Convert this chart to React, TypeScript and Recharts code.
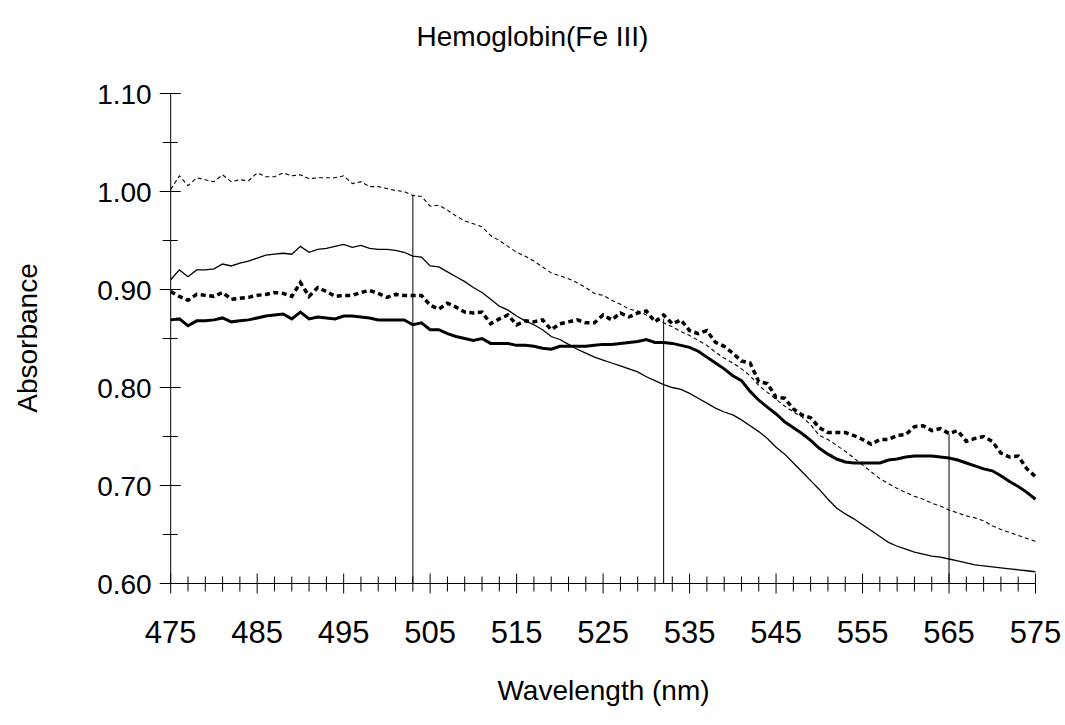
import { LineChart, Line, XAxis, YAxis, ReferenceLine } from 'recharts';

const wavelength = [
  475, 476, 477, 478, 479, 480, 481, 482, 483, 484, 485, 486, 487, 488, 489, 490, 491, 492, 493, 494,
  495, 496, 497, 498, 499, 500, 501, 502, 503, 504, 505, 506, 507, 508, 509, 510, 511, 512, 513, 514,
  515, 516, 517, 518, 519, 520, 521, 522, 523, 524, 525, 526, 527, 528, 529, 530, 531, 532, 533, 534,
  535, 536, 537, 538, 539, 540, 541, 542, 543, 544, 545, 546, 547, 548, 549, 550, 551, 552, 553, 554,
  555, 556, 557, 558, 559, 560, 561, 562, 563, 564, 565, 566, 567, 568, 569, 570, 571, 572, 573, 574,
  575,
];

// thin dashed trace
const absDashedThin = [
  1.002, 1.016, 1.006, 1.014, 1.012, 1.010, 1.017, 1.010, 1.012, 1.011, 1.019, 1.015, 1.015, 1.019, 1.016, 1.017, 1.013, 1.014, 1.014, 1.014,
  1.016, 1.008, 1.010, 1.005, 1.005, 1.003, 1.001, 1.000, 0.996, 0.995, 0.985, 0.986, 0.981, 0.975, 0.970, 0.967, 0.964, 0.955, 0.950, 0.944,
  0.938, 0.934, 0.929, 0.923, 0.917, 0.914, 0.911, 0.907, 0.902, 0.896, 0.894, 0.889, 0.885, 0.880, 0.878, 0.874, 0.871, 0.866, 0.862, 0.857,
  0.853, 0.848, 0.843, 0.836, 0.830, 0.825, 0.819, 0.812, 0.802, 0.795, 0.788, 0.781, 0.775, 0.770, 0.762, 0.751, 0.747, 0.741, 0.735, 0.728,
  0.721, 0.714, 0.707, 0.702, 0.697, 0.693, 0.689, 0.686, 0.682, 0.679, 0.675, 0.672, 0.669, 0.667, 0.664, 0.659, 0.655, 0.652, 0.649, 0.646,
  0.643,
];

// thin solid trace
const absSolidThin = [
  0.910, 0.920, 0.913, 0.920, 0.920, 0.921, 0.926, 0.924, 0.927, 0.929, 0.932, 0.935, 0.936, 0.937, 0.936, 0.944, 0.938, 0.941, 0.942, 0.944,
  0.946, 0.943, 0.945, 0.942, 0.941, 0.941, 0.940, 0.938, 0.934, 0.933, 0.924, 0.923, 0.918, 0.913, 0.908, 0.902, 0.897, 0.890, 0.883, 0.879,
  0.873, 0.868, 0.864, 0.859, 0.852, 0.849, 0.844, 0.839, 0.835, 0.831, 0.828, 0.825, 0.822, 0.819, 0.816, 0.811, 0.807, 0.803, 0.800, 0.798,
  0.794, 0.789, 0.784, 0.779, 0.775, 0.772, 0.767, 0.761, 0.755, 0.748, 0.739, 0.732, 0.723, 0.714, 0.705, 0.696, 0.686, 0.677, 0.671, 0.666,
  0.660, 0.654, 0.648, 0.642, 0.638, 0.635, 0.632, 0.630, 0.628, 0.627, 0.625, 0.623, 0.621, 0.619, 0.618, 0.617, 0.616, 0.615, 0.614, 0.613,
  0.612,
];

// thick dotted trace
const absDottedThick = [
  0.898, 0.893, 0.889, 0.895, 0.894, 0.893, 0.897, 0.890, 0.891, 0.892, 0.894, 0.895, 0.897, 0.896, 0.893, 0.907, 0.893, 0.902, 0.898, 0.893,
  0.894, 0.894, 0.897, 0.899, 0.896, 0.892, 0.895, 0.894, 0.894, 0.894, 0.884, 0.880, 0.886, 0.882, 0.877, 0.876, 0.877, 0.865, 0.870, 0.874,
  0.864, 0.868, 0.867, 0.869, 0.859, 0.865, 0.867, 0.869, 0.866, 0.866, 0.874, 0.869, 0.876, 0.872, 0.876, 0.878, 0.867, 0.874, 0.865, 0.869,
  0.858, 0.855, 0.858, 0.846, 0.842, 0.835, 0.827, 0.825, 0.806, 0.804, 0.790, 0.789, 0.778, 0.772, 0.769, 0.759, 0.754, 0.754, 0.754, 0.751,
  0.747, 0.742, 0.747, 0.747, 0.751, 0.752, 0.760, 0.761, 0.756, 0.758, 0.753, 0.756, 0.745, 0.748, 0.750, 0.745, 0.733, 0.729, 0.730, 0.717,
  0.709,
];

// thick solid trace
const absSolidThick = [
  0.869, 0.870, 0.863, 0.868, 0.868, 0.869, 0.871, 0.867, 0.868, 0.869, 0.871, 0.873, 0.874, 0.875, 0.870, 0.877, 0.870, 0.872, 0.871, 0.870,
  0.873, 0.873, 0.872, 0.871, 0.869, 0.869, 0.869, 0.869, 0.864, 0.866, 0.859, 0.859, 0.855, 0.852, 0.850, 0.848, 0.850, 0.845, 0.845, 0.845,
  0.843, 0.843, 0.842, 0.840, 0.839, 0.842, 0.842, 0.842, 0.842, 0.843, 0.844, 0.844, 0.845, 0.846, 0.847, 0.849, 0.846, 0.846, 0.845, 0.843,
  0.841, 0.837, 0.831, 0.825, 0.819, 0.812, 0.807, 0.796, 0.787, 0.780, 0.773, 0.765, 0.759, 0.753, 0.746, 0.738, 0.732, 0.727, 0.724, 0.723,
  0.723, 0.723, 0.723, 0.726, 0.727, 0.729, 0.730, 0.730, 0.730, 0.729, 0.728, 0.726, 0.723, 0.720, 0.717, 0.715, 0.710, 0.704, 0.699, 0.693,
  0.686,
];

// vertical drop lines
const markerWavelength = [503, 532, 565];
const markerTop = [0.996, 0.870, 0.753];

const xTicks = [
  475, 477, 479, 481, 483, 485, 487, 489, 491, 493, 495, 497, 499, 501, 503, 505, 507, 509, 511, 513,
  515, 517, 519, 521, 523, 525, 527, 529, 531, 533, 535, 537, 539, 541, 543, 545, 547, 549, 551, 553,
  555, 557, 559, 561, 563, 565, 567, 569, 571, 573, 575,
];
const xLabels = [475, 485, 495, 505, 515, 525, 535, 545, 555, 565, 575];
const yTicks = [0.6, 0.65, 0.7, 0.75, 0.8, 0.85, 0.9, 0.95, 1.0, 1.05, 1.1];
const yLabels = ['0.60', '0.70', '0.80', '0.90', '1.00', '1.10'];

const FONT = '"Liberation Sans", Arial, sans-serif';

const data = wavelength.map((w, i) => ({
  w,
  dashedThin: absDashedThin[i],
  solidThin: absSolidThin[i],
  dottedThick: absDottedThick[i],
  solidThick: absSolidThick[i],
}));

function XTick(props: any) {
  const { x, y, payload } = props;
  const major = xLabels.includes(payload.value);
  return (
    <g>
      <line x1={x} x2={x} y1={y - (major ? 10 : 7)} y2={y + (major ? 10 : 8)} stroke="#000" strokeWidth={1} />
      {major && (
        <text x={x} y={y + 59} textAnchor="middle" fontSize={31} fontFamily={FONT} fill="#000">
          {payload.value}
        </text>
      )}
    </g>
  );
}

function YTick(props: any) {
  const { x, y, payload } = props;
  const label = Number(payload.value).toFixed(2);
  const major = yLabels.includes(label);
  return (
    <g>
      <line x1={x - (major ? 11 : 8)} x2={x + (major ? 10 : 7)} y1={y} y2={y} stroke="#000" strokeWidth={1} />
      {major && (
        <text x={x - 19} y={y} dy="0.36em" textAnchor="end" fontSize={28} fontFamily={FONT} fill="#000">
          {label}
        </text>
      )}
    </g>
  );
}

export default function App() {
  return (
    <div style={{ position: 'absolute', left: 0, top: 0, width: 1065, height: 725, background: '#fff', fontFamily: FONT }}>
      <div style={{ position: 'absolute', left: 0, width: 1065, top: 20, textAlign: 'center', fontSize: 28, lineHeight: '34px' }}>
        Hemoglobin(Fe III)
      </div>
      <div
        style={{
          position: 'absolute', left: 28, top: 338, fontSize: 28, lineHeight: '34px', whiteSpace: 'nowrap',
          transform: 'translate(-50%, -50%) rotate(-90deg)',
        }}
      >
        Absorbance
      </div>
      <div style={{ position: 'absolute', left: 171, width: 865, top: 674, textAlign: 'center', fontSize: 28, lineHeight: '34px' }}>
        Wavelength (nm)
      </div>
      <div style={{ position: 'absolute', left: 0, top: 0 }}>
        <LineChart width={1065} height={725} data={data} margin={{ top: 93.5, right: 29.5, bottom: 0, left: 0 }}>
          <XAxis
            dataKey="w"
            type="number"
            domain={[475, 575]}
            ticks={xTicks}
            interval={0}
            height={141.5}
            tickSize={0}
            tickMargin={0}
            tickLine={false}
            axisLine={{ stroke: '#000', strokeWidth: 1 }}
            tick={<XTick />}
          />
          <YAxis
            type="number"
            domain={[0.6, 1.1]}
            ticks={yTicks}
            interval={0}
            width={170.7}
            tickSize={0}
            tickMargin={0}
            tickLine={false}
            axisLine={{ stroke: '#000', strokeWidth: 1 }}
            tick={<YTick />}
          />
          <Line type="linear" dataKey="dashedThin" stroke="#000" strokeWidth={1.1} strokeDasharray="4 3" dot={false} isAnimationActive={false} />
          <Line type="linear" dataKey="solidThin" stroke="#000" strokeWidth={1.3} dot={false} isAnimationActive={false} />
          <Line type="linear" dataKey="dottedThick" stroke="#000" strokeWidth={3.5} strokeDasharray="5 3.5" dot={false} isAnimationActive={false} />
          <Line type="linear" dataKey="solidThick" stroke="#000" strokeWidth={3} dot={false} isAnimationActive={false} />
          {markerWavelength.map((w, i) => (
            <ReferenceLine
              key={w}
              segment={[{ x: w, y: 0.6 }, { x: w, y: markerTop[i] }]}
              stroke="#000"
              strokeWidth={1}
            />
          ))}
        </LineChart>
      </div>
    </div>
  );
}
